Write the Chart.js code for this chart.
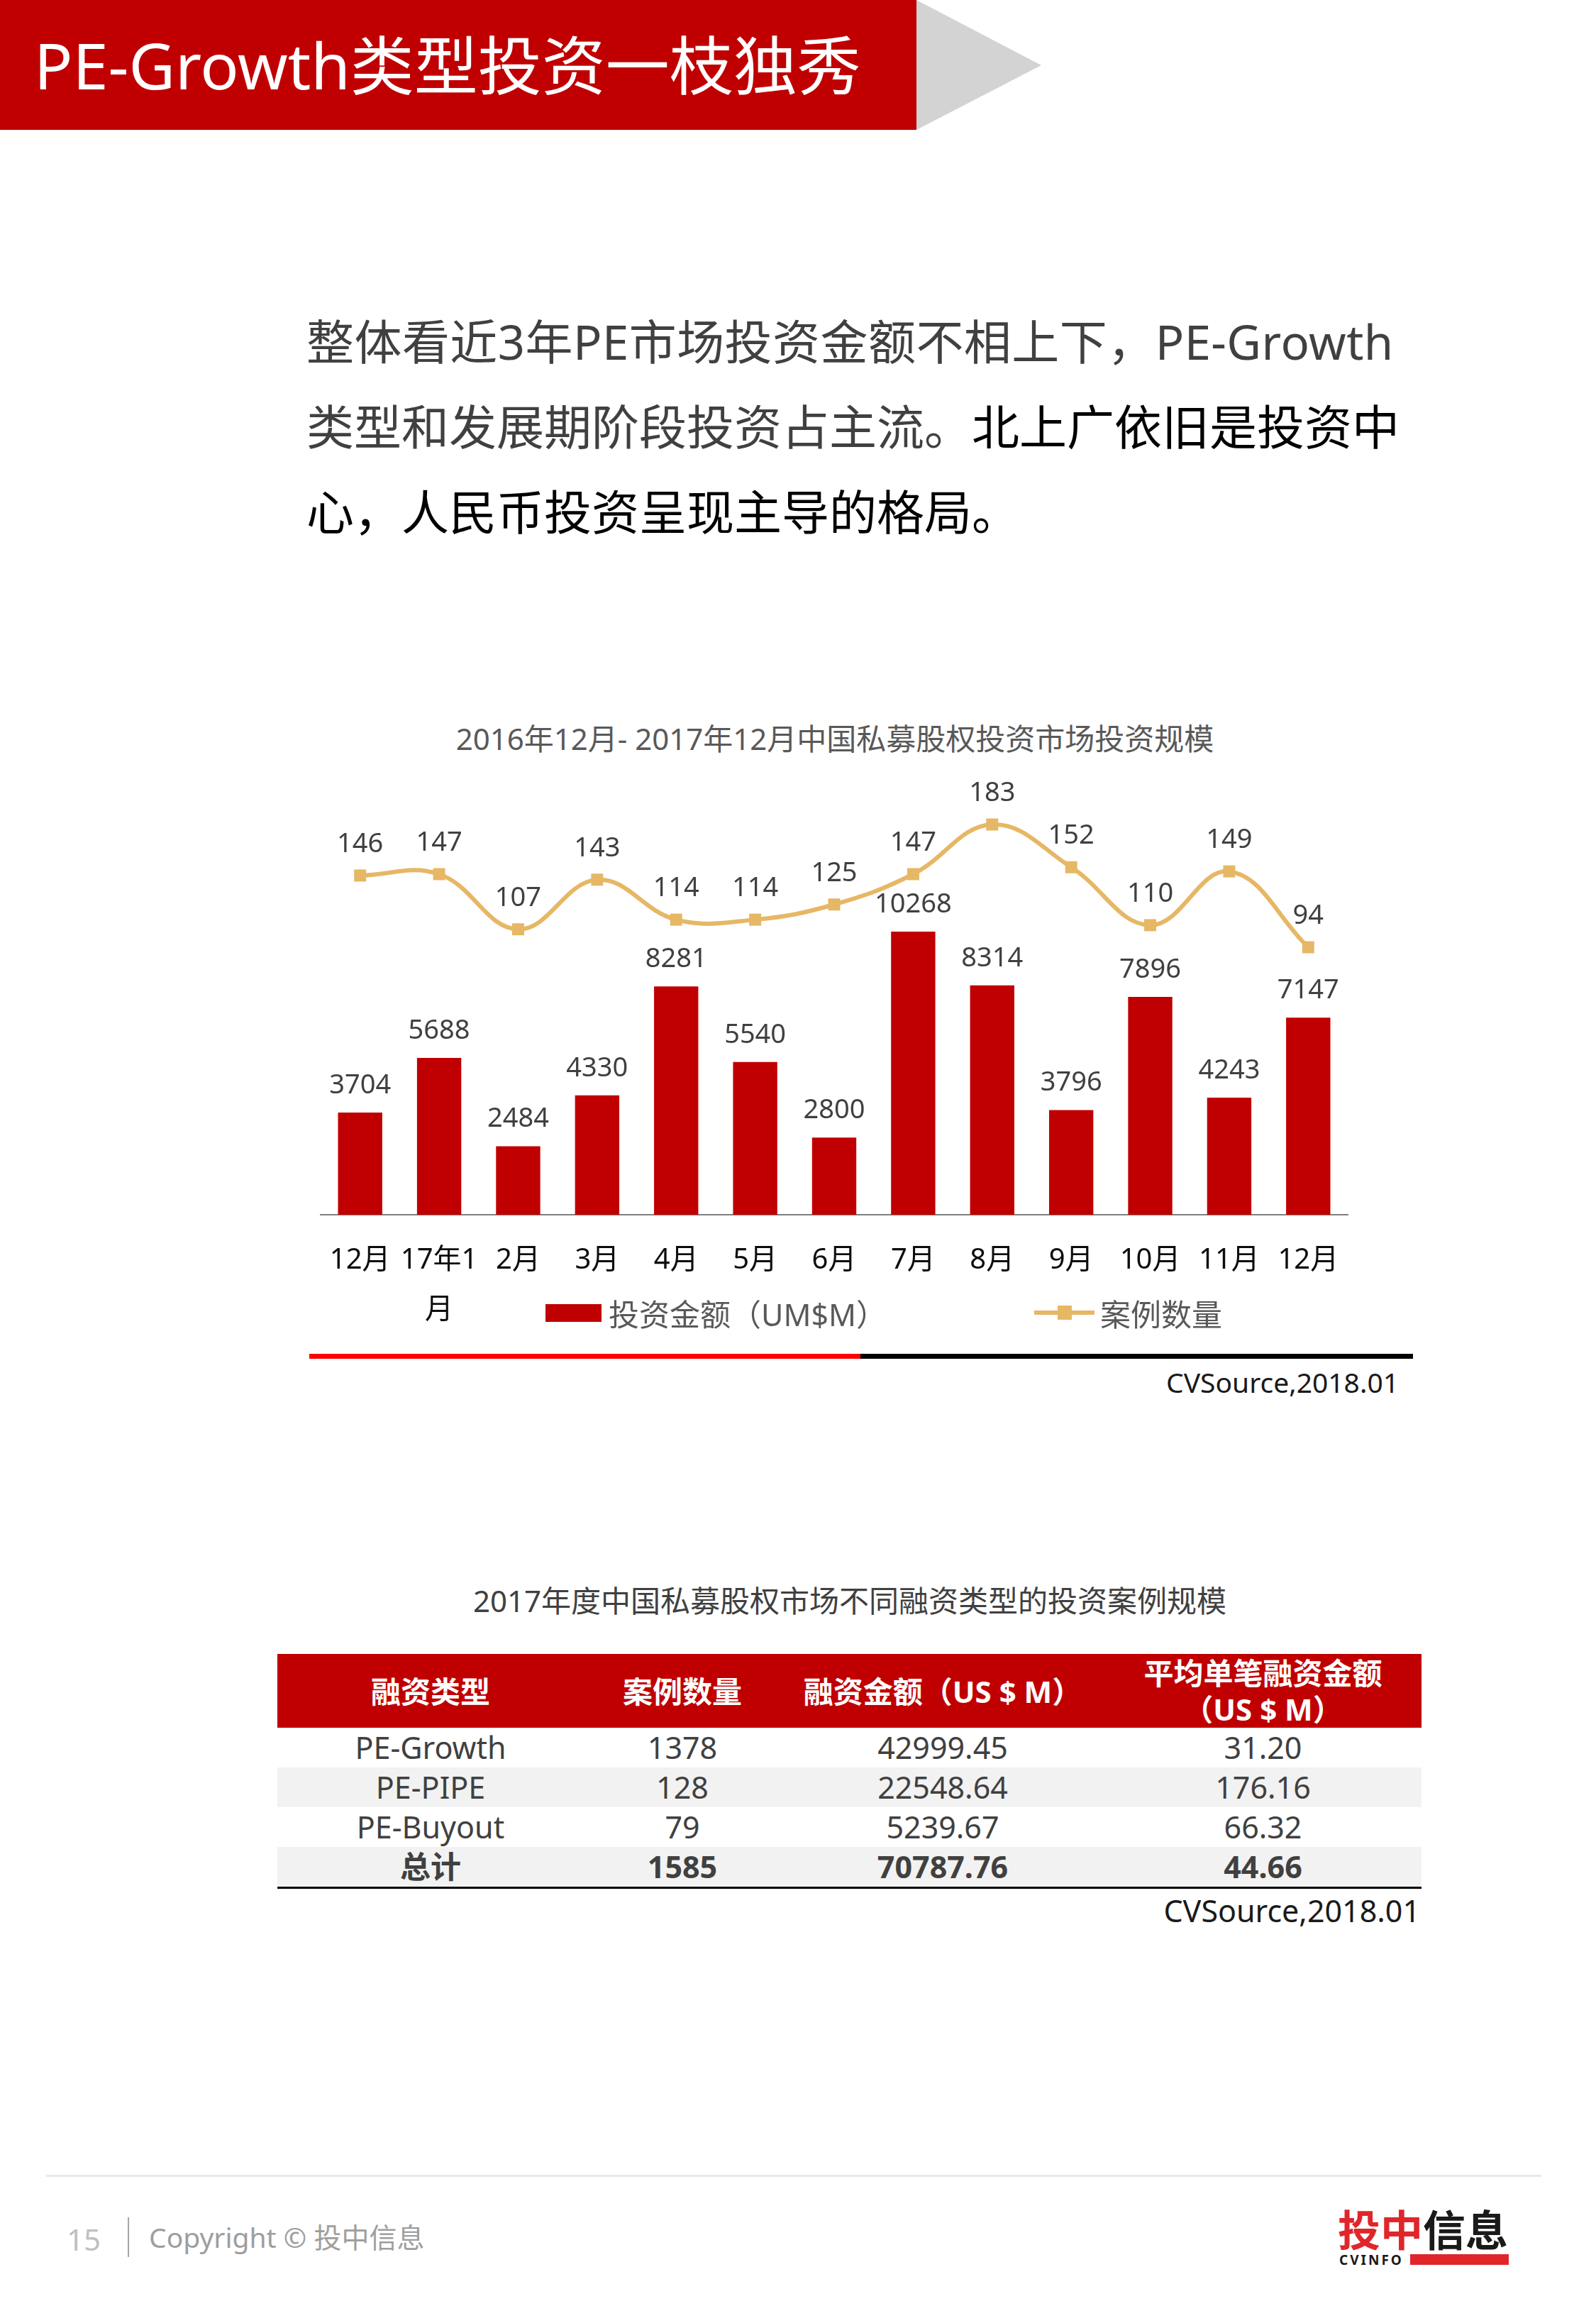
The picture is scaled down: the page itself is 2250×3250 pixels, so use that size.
<!DOCTYPE html>
<html>
<head>
<meta charset="utf-8">
<script src="https://cdn.jsdelivr.net/npm/chart.js@4.4.1/dist/chart.umd.min.js"></script>
<style>
  body { margin: 0; width: 2250px; height: 3250px; position: relative; background: #fff; overflow: hidden;
         font-family: "Noto Sans", "Noto Sans CJK SC", sans-serif; color: #404040; }
  .abs { position: absolute; white-space: nowrap; }
  #banner { left: 0; top: 0; width: 1292px; height: 183px; background: #C00000; color: #fff;
            font-size: 90px; line-height: 183px; padding-left: 48px; box-sizing: border-box; }
  #arrow { left: 1292px; top: 0; width: 0; height: 0; border-left: 176px solid #D3D3D3;
           border-top: 92px solid transparent; border-bottom: 91px solid transparent; }
  .para { left: 432px; font-size: 67px; line-height: 120px; color: #404040; }
  .para b { font-weight: normal; color: #000; }
  .title { font-size: 42px; line-height: 60px; color: #595959; transform: translateX(-50%); }
  #chartBox { left: 400px; top: 1080px; width: 1560px; height: 815px; }
  .legTxt { font-size: 43px; line-height: 50px; color: #595959; }
  .src { font-size: 39px; line-height: 50px; color: #1a1a1a; text-align: right; }
  table { position: absolute; left: 391px; top: 2331px; width: 1613px; border-collapse: collapse; table-layout: fixed; }
  th { background: #C00000; color: #fff; font-size: 42px; font-weight: bold; height: 104px; line-height: 51px; padding: 0; }
  td { font-size: 43px; height: 56px; line-height: 56px; padding: 0; text-align: center; color: #404040; }
  tr.band td { background: #F2F2F2; }
  tr.total td { font-weight: bold; border-bottom: 3px solid #000; }
</style>
</head>
<body>
<div id="banner" class="abs">PE-Growth类型投资一枝独秀</div>
<div id="arrow" class="abs"></div>

<div class="abs para" style="top:421px;letter-spacing:0.45px">整体看近3年PE市场投资金额不相上下，PE-Growth</div>
<div class="abs para" style="top:541px">类型和发展期阶段投资占主流。<b>北上广依旧是投资中</b></div>
<div class="abs para" style="top:661px"><b>心，人民币投资呈现主导的格局。</b></div>

<div class="abs title" style="left:1177px;top:1011px">2016年12月- 2017年12月中国私募股权投资市场投资规模</div>

<div id="chartBox" class="abs"><canvas id="mainChart" width="1560" height="815"></canvas></div>

<div class="abs" style="left:769px;top:1838px;width:79px;height:25px;background:#C00000"></div>
<div class="abs legTxt" style="left:858px;top:1828px">投资金额（UM$M）</div>
<div class="abs" style="left:1458px;top:1847px;width:85px;height:6px;background:#E6B765"></div>
<div class="abs" style="left:1491px;top:1840px;width:20px;height:20px;background:#E6B765"></div>
<div class="abs legTxt" style="left:1551px;top:1828px">案例数量</div>

<div class="abs" style="left:436px;top:1908px;width:777px;height:7px;background:#FF0000"></div>
<div class="abs" style="left:1213px;top:1908px;width:779px;height:7px;background:#000"></div>
<div class="abs src" style="right:278px;top:1923px">CVSource,2018.01</div>

<div class="abs title" style="left:1198px;top:2226px;color:#404040">2017年度中国私募股权市场不同融资类型的投资案例规模</div>
<table id="tbl">
  <colgroup><col style="width:432px"><col style="width:278px"><col style="width:456px"><col style="width:447px"></colgroup>
  <thead><tr id="tblHead"></tr></thead>
  <tbody id="tblBody"></tbody>
</table>
<div class="abs src" style="right:248px;top:2668px;font-size:43px">CVSource,2018.01</div>

<div class="abs" style="left:65px;top:3065px;width:2108px;height:3px;background:#E8E8E8"></div>
<div class="abs" style="left:94px;top:3128px;font-size:42px;line-height:56px;color:#BFBFBF">15</div>
<div class="abs" style="left:180px;top:3125px;width:2px;height:56px;background:#A6A6A6"></div>
<div class="abs" style="left:210px;top:3128px;font-size:39px;line-height:50px;color:#9E9E9E">Copyright © 投中信息</div>
<div class="abs" style="left:1886px;top:3100px;font-size:60px;line-height:80px;font-weight:bold;font-family:'Noto Sans CJK SC'">
  <span style="color:#E0262A">投中</span><span style="color:#1A1A1A">信息</span></div>
<div class="abs" style="left:1888px;top:3174px;font-size:19px;line-height:22px;font-weight:bold;color:#1A1A1A;letter-spacing:3px">CVINFO</div>
<div class="abs" style="left:1988px;top:3177px;width:139px;height:15px;background:#E0262A"></div>

<script>
// monthly data, Dec 2016 - Dec 2017
const months = ['12月', ['17年1', '月'], '2月', '3月', '4月', '5月', '6月', '7月', '8月', '9月', '10月', '11月', '12月'];
const amounts = [3704, 5688, 2484, 4330, 8281, 5540, 2800, 10268, 8314, 3796, 7896, 4243, 7147];
const cases = [146, 147, 107, 143, 114, 114, 125, 147, 183, 152, 110, 149, 94];

// 2017 table by financing type
const tableHeads = ['融资类型', '案例数量', '融资金额（US $ M）', '平均单笔融资金额<br>（US $ M）'];
const dealTypes = ['PE-Growth', 'PE-PIPE', 'PE-Buyout', '总计'];
const dealCounts = ['1378', '128', '79', '1585'];
const dealAmounts = ['42999.45', '22548.64', '5239.67', '70787.76'];
const dealAverages = ['31.20', '176.16', '66.32', '44.66'];

const FONT = '"Noto Sans", "Noto Sans CJK SC", sans-serif';

document.getElementById('tblHead').innerHTML = tableHeads.map(h => '<th>' + h + '</th>').join('');
document.getElementById('tblBody').innerHTML = dealTypes.map((t, i) => {
  let cls = i % 2 === 1 ? 'band' : '';
  if (i === dealTypes.length - 1) cls += ' total';
  return '<tr class="' + cls + '"><td>' + t + '</td><td>' + dealCounts[i] + '</td><td>' +
    dealAmounts[i] + '</td><td>' + dealAverages[i] + '</td></tr>';
}).join('');

// values written above bars and points
const valueLabels = {
  id: 'valueLabels',
  afterDatasetsDraw(chart) {
    const ctx = chart.ctx;
    ctx.save();
    ctx.font = '38px ' + FONT;
    ctx.fillStyle = '#404040';
    ctx.textAlign = 'center';
    ctx.textBaseline = 'middle';
    chart.data.datasets.forEach((ds, i) => {
      const lift = ds.type === 'line' ? 44 : 38;
      chart.getDatasetMeta(i).data.forEach((el, j) => {
        ctx.fillText(String(ds.data[j]), el.x, el.y - lift);
      });
    });
    ctx.restore();
  }
};

new Chart(document.getElementById('mainChart'), {
  type: 'bar',
  data: {
    labels: months,
    datasets: [
      {
        type: 'line',
        label: '案例数量',
        data: cases,
        yAxisID: 'y1',
        borderColor: '#E6B765',
        backgroundColor: '#E6B765',
        borderWidth: 6,
        tension: 0.4,
        pointStyle: 'rect',
        pointRadius: 12,
        pointHoverRadius: 12,
        pointBorderWidth: 0,
        order: 0
      },
      {
        label: '投资金额（UM$M）',
        data: amounts,
        yAxisID: 'y',
        backgroundColor: '#C00000',
        categoryPercentage: 0.8,
        barPercentage: 0.7,
        order: 1
      }
    ]
  },
  options: {
    responsive: false,
    animation: false,
    layout: { padding: { left: 52, right: 60, top: 49, bottom: 0 } },
    plugins: { legend: { display: false }, tooltip: { enabled: false } },
    scales: {
      x: {
        grid: { display: false, drawTicks: false },
        border: { display: true, color: '#808080', width: 2 },
        ticks: { padding: 30, color: '#0D0D0D', font: { family: FONT, size: 40, lineHeight: 1.75 }, maxRotation: 0, autoSkip: false },
        afterFit: s => { s.height = 183; }
      },
      y: { display: false, min: 0, max: 15000 },
      y1: { display: false, position: 'right', min: -100, max: 200 }
    }
  },
  plugins: [valueLabels]
});
</script>
</body>
</html>
